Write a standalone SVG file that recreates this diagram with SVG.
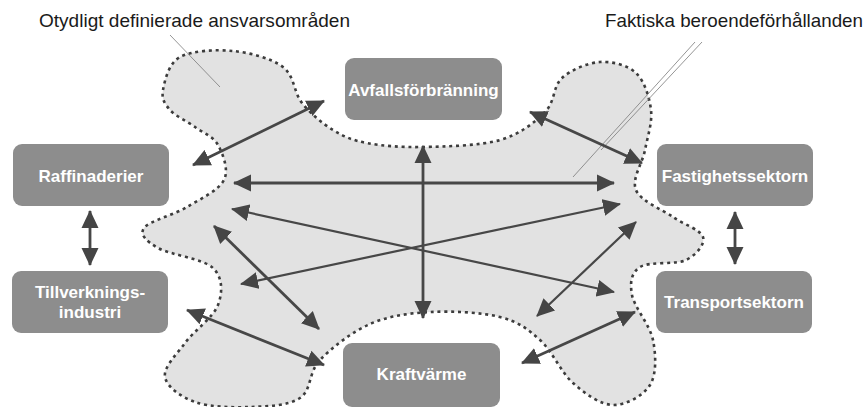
<svg xmlns="http://www.w3.org/2000/svg" width="866" height="407" viewBox="0 0 866 407">
  <style>
    .zone { fill: #e2e2e2; stroke: #3c3c3c; stroke-width: 2.6; stroke-dasharray: 3 3.8; stroke-linecap: butt; }
    .box { fill: #8d8d8d; }
    .lbl { font-family: "Liberation Sans", Arial, Helvetica, sans-serif; font-size: 17px; font-weight: bold; fill: #ffffff; text-anchor: middle; }
    .note { font-family: "Liberation Sans", Arial, Helvetica, sans-serif; font-size: 19px; fill: #1a1a1a; }
    .lead { stroke: #7a7a7a; stroke-width: 0.8; fill: none; }
    .link { stroke: #474747; stroke-width: 2.8; fill: none; marker-start: url(#head); marker-end: url(#head); }
    .thin { stroke-width: 2.2; }
  </style>
  <defs>
    <marker id="head" viewBox="0 0 18 18" refX="17" refY="9" markerWidth="18" markerHeight="18" markerUnits="userSpaceOnUse" orient="auto-start-reverse">
      <path d="M0,0.5 L18,9 L0,17.5 Z" fill="#454545"/>
    </marker>
  </defs>

  <!-- shared, loosely bounded area -->
  <path class="zone" d="M163,90 C164.7,81.2 168.3,63.5 180,57 C191.7,50.5 215.8,49.3 233,51 C250.2,52.7 271.5,58.3 283,67 C294.5,75.7 293.7,92.5 302,103 C310.3,113.5 322.2,123.3 333,130 C343.8,136.7 352,140.2 367,143 C382,145.8 400.8,147.5 423,147 C445.2,146.5 479.7,145.8 500,140 C520.3,134.2 534.7,122.3 545,112 C555.3,101.7 552.8,86.3 562,78 C571.2,69.7 587.7,62.8 600,62 C612.3,61.2 627.5,65 636,73 C644.5,81 649.5,97.2 651,110 C652.5,122.8 647.5,136.7 645,150 C642.5,163.3 631.3,178.8 636,190 C640.7,201.2 661.8,209.2 673,217 C684.2,224.8 700.8,229.8 703,237 C705.2,244.2 696.5,255 686,260 C675.5,265 649,261.2 640,267 C631,272.8 629.8,282.8 632,295 C634.2,307.2 650,325 653,340 C656,355 656.7,374.2 650,385 C643.3,395.8 625.8,405.3 613,405 C600.2,404.7 585.2,393.8 573,383 C560.8,372.2 552.2,351 540,340 C527.8,329 518.3,321.7 500,317 C481.7,312.3 451.7,310.8 430,312 C408.3,313.2 388.3,316 370,324 C351.7,332 331.7,347.7 320,360 C308.3,372.3 311.7,390.2 300,398 C288.3,405.8 267.5,406.3 250,407 C232.5,407.7 209.2,407 195,402 C180.8,397 166.7,386.8 165,377 C163.3,367.2 176.2,355 185,343 C193.8,331 213.3,317.5 218,305 C222.7,292.5 223,277.5 213,268 C203,258.5 169.5,254.7 158,248 C146.5,241.3 139.2,234.8 144,228 C148.8,221.2 173.7,215 187,207 C200.3,199 218.8,190.3 224,180 C229.2,169.7 222.8,153.8 218,145 C213.2,136.2 203,132.8 195,127 C187,121.2 175.3,116.2 170,110 C164.7,103.8 161.3,98.8 163,90 Z"/>

  <!-- callout texts and their pointer lines -->
  <g id="note-unclear">
    <text class="note" x="39" y="27" textLength="311" lengthAdjust="spacingAndGlyphs">Otydligt definierade ansvarsområden</text>
    <line class="lead" x1="170" y1="35" x2="220" y2="87"/>
  </g>
  <g id="note-actual">
    <text class="note" x="605" y="27" textLength="258" lengthAdjust="spacingAndGlyphs">Faktiska beroendeförhållanden</text>
    <line class="lead" x1="695" y1="42" x2="573" y2="177"/>
    <line class="lead" x1="702" y1="42" x2="601" y2="150"/>
  </g>

  <!-- dependencies -->
  <g id="connectors">
    <line class="link" x1="193" y1="165" x2="324" y2="101"/>
    <line class="link" x1="530" y1="112" x2="642" y2="163"/>
    <line class="link" x1="423" y1="146" x2="423" y2="318"/>
    <line class="link" x1="234" y1="183" x2="614" y2="183"/>
    <line class="link thin" x1="232" y1="209" x2="614" y2="292"/>
    <line class="link thin" x1="241" y1="284" x2="620" y2="204"/>
    <line class="link" x1="214" y1="226" x2="319" y2="329"/>
    <line class="link" x1="187" y1="310" x2="324" y2="365"/>
    <line class="link" x1="522" y1="363" x2="635" y2="312"/>
    <line class="link thin" x1="537" y1="316" x2="636" y2="222"/>
    <line class="link" x1="90" y1="211" x2="90" y2="265"/>
    <line class="link" x1="735" y1="212" x2="735" y2="264"/>
  </g>

  <g id="avfall">
    <rect class="box" x="345" y="58" width="157" height="62" rx="9"/>
    <text class="lbl" x="423.5" y="96">Avfallsförbränning</text>
  </g>
  <g id="raffinaderier">
    <rect class="box" x="13" y="144" width="156" height="62" rx="9"/>
    <text class="lbl" x="91" y="182">Raffinaderier</text>
  </g>
  <g id="fastighet">
    <rect class="box" x="657" y="144" width="156" height="62" rx="9"/>
    <text class="lbl" x="735" y="182">Fastighetssektorn</text>
  </g>
  <g id="tillverkning">
    <rect class="box" x="12" y="271" width="156" height="62" rx="9"/>
    <text class="lbl" x="90" y="298">Tillverknings-</text>
    <text class="lbl" x="90" y="318">industri</text>
  </g>
  <g id="transport">
    <rect class="box" x="656" y="271" width="156" height="62" rx="9"/>
    <text class="lbl" x="734" y="308">Transportsektorn</text>
  </g>
  <g id="kraftvarme">
    <rect class="box" x="343" y="343" width="157" height="64" rx="9"/>
    <text class="lbl" x="421.5" y="380">Kraftvärme</text>
  </g>
</svg>
